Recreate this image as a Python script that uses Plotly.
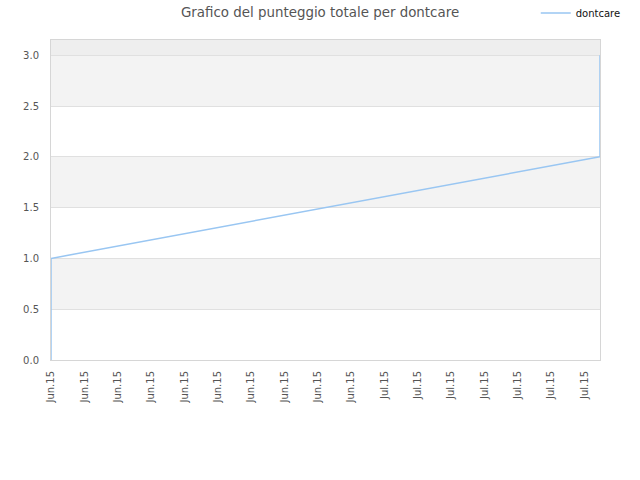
import plotly.graph_objects as go

# punteggio cumulativo nel tempo
dates = ["2015-06-01", "2015-06-01", "2015-07-20 10:00", "2015-07-20 10:00"]
scores = [0, 1, 2, 3]

band_edges = [0, 0.5, 1.0, 1.5, 2.0, 2.5, 3.0, 3.15]

fig = go.Figure()

fig.add_trace(go.Scatter(
    x=dates, y=scores, mode="lines", name="dontcare",
    line=dict(color="#99c6f2", width=1.5),
))

# bande alternate dello sfondo
for i in range(len(band_edges) - 1):
    if i % 2 == 1:
        col = "#f3f3f3"
    else:
        col = "rgba(0,0,0,0)"
    if i == len(band_edges) - 2:
        col = "#eeeeee"
    fig.add_shape(type="rect", xref="paper", yref="y", x0=0, x1=1,
                  y0=band_edges[i], y1=band_edges[i + 1],
                  fillcolor=col, line_width=0, layer="below")

fig.update_layout(
    width=640, height=480,
    margin=dict(l=51, r=40, t=40, b=120, autoexpand=False),
    paper_bgcolor="white", plot_bgcolor="white",
    font=dict(family="DejaVu Sans", size=10, color="#555555"),
    title=dict(text="Grafico del punteggio totale per dontcare", x=0.5, xanchor="center",
               y=0.985, yanchor="top", font=dict(size=13.4, color="#555555")),
    showlegend=True,
    legend=dict(x=0.883, xanchor="left", y=1.084, yanchor="middle",
                font=dict(size=10, color="#111111"), bgcolor="rgba(0,0,0,0)",
                itemwidth=30),
    xaxis=dict(
        type="date", range=["2015-06-01", "2015-07-20 10:00"],
        tick0="2015-06-01", dtick=3 * 86400000, tickformat="%b.%y",
        tickangle=-90, showgrid=False, zeroline=False, automargin=False,
        showline=True, linecolor="#d6d6d6", mirror=True,
        ticks="", ticklabelstandoff=6, tickfont=dict(size=10, color="#555555"),
    ),
    yaxis=dict(
        range=[0, 3.15], tick0=0, dtick=0.5, tickformat=".1f", automargin=False,
        showgrid=True, gridcolor="#e0e0e0", zeroline=False,
        showline=True, linecolor="#d6d6d6", mirror=True,
        ticks="", ticklabelstandoff=9, tickfont=dict(size=10, color="#555555"),
    ),
)

# niente margine nel body, così il grafico parte da (0, 0)
fig.write_html("out.html", config={"displayModeBar": False},
               post_script="document.body.style.margin = '0';")
